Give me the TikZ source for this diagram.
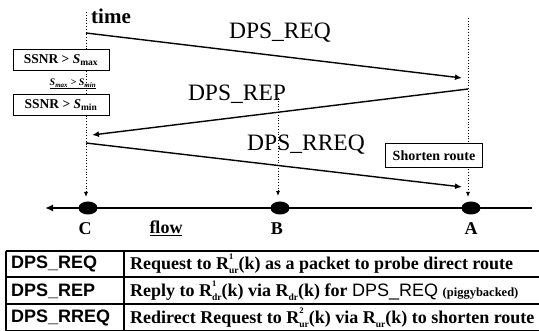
\documentclass[tikz,border=0pt]{standalone}
\usepackage{fontspec}
\setmainfont{Liberation Serif}
\newfontfamily\sansf{Liberation Sans}
\usetikzlibrary{arrows.meta,shapes.geometric}
\newcommand{\Rsub}[2]{R\rlap{\raisebox{0.58em}{\fontsize{8.5}{8.5}\selectfont #1}}\raisebox{-0.22em}{\fontsize{9.5}{9.5}\selectfont #2}}
\newcommand{\Rlow}[1]{R\raisebox{-0.22em}{\fontsize{9.5}{9.5}\selectfont #1}}
\begin{document}
\begin{tikzpicture}[x=1pt,y=-1pt,
  msg/.style={line width=1.4pt,-{Latex[length=7pt,width=6pt]}},
  dotline/.style={dotted,line width=0.8pt,-{Latex[length=5pt,width=4pt]}},
  condbox/.style={draw,line width=1pt,fill=white,inner sep=0pt,minimum width=96pt,minimum height=21pt,font=\bfseries\fontsize{13.5}{15}\selectfont},
  msglbl/.style={font=\fontsize{23.5}{26}\selectfont},
  station/.style={ellipse,fill=black,minimum width=19pt,minimum height=13pt,inner sep=0pt},
  stlbl/.style={font=\bfseries\fontsize{18}{20}\selectfont},
  tcolA/.style={anchor=west,font=\sansf\bfseries\fontsize{18}{20}\selectfont,inner sep=0pt},
  tcolB/.style={anchor=west,font=\bfseries\fontsize{18}{20}\selectfont,inner sep=0pt},
  tline/.style={line width=1.3pt}
]
\useasboundingbox (0,0) rectangle (539,331);

% time lines
\coordinate (ctop) at (86,12);
\coordinate (cbot) at (86,197);
\coordinate (atop) at (468,18);
\coordinate (abot) at (468,197);
\coordinate (btop) at (278,98);
\coordinate (bbot) at (278,196);
\draw[dotline] (ctop) -- (cbot);
\draw[dotline] (atop) -- (abot);
\draw[dotline] (btop) -- (bbot);

\node[anchor=south west,inner sep=0pt,font=\bfseries\fontsize{21}{24}\selectfont] (time) at (91,24) {time};

% messages
\coordinate (req1) at (86,33);
\coordinate (req2) at (462,78);
\coordinate (rep1) at (468,89);
\coordinate (rep2) at (92,135);
\coordinate (rr1) at (86,143);
\coordinate (rr2) at (462,187);
\draw[msg] (req1) -- (req2);
\draw[msg] (rep1) -- (rep2);
\draw[msg] (rr1) -- (rr2);
\node[msglbl] (lreq) at (280,33) {DPS\_REQ};
\node[msglbl] (lrep) at (237,94) {DPS\_REP};
\node[msglbl] (lrr) at (306,145) {DPS\_RREQ};

% condition boxes
\node[condbox] (c1) at (61,60) {SSNR > \textit{S}\textsubscript{max}};
\node[font=\bfseries\itshape\fontsize{10}{12}\selectfont,inner sep=1pt] (c2) at (73,84) {\underline{S\textsubscript{max} > S\textsubscript{min}}};
\node[condbox] (c3) at (61,105) {SSNR > \textit{S}\textsubscript{min}};
\node[condbox,minimum width=97pt,minimum height=24pt,font=\bfseries\fontsize{14}{16}\selectfont] (sr) at (434,156) {Shorten route};

% flow line and stations
\coordinate (fl) at (45,208);
\coordinate (fr) at (532,208);
\draw[line width=1.6pt,-{Latex[length=8pt,width=7pt]}] (fr) -- (fl);
\node[station] (C) at (88,208) {};
\node[station] (B) at (280,208) {};
\node[station] (A) at (471,208) {};
\node[stlbl] (lC) at (85,229) {C};
\node[stlbl] (lflow) at (166,228) {\underline{flow}};
\node[stlbl] (lB) at (277,229) {B};
\node[stlbl] (lA) at (471,229) {A};

% table
\draw[tline] (6,251) -- (539,251);
\draw[tline] (6,277) -- (539,277);
\draw[tline] (6,304) -- (539,304);
\draw[tline] (6,330.5) -- (539,330.5);
\draw[tline] (6,251) -- (6,331);
\draw[tline] (124,251) -- (124,331);
\node[tcolA] (t1a) at (11,264) {DPS\_REQ};
\node[tcolA] (t2a) at (11,291) {DPS\_REP};
\node[tcolA] (t3a) at (11,318) {DPS\_RREQ};
\node[tcolB] (t1b) at (130,264) {Request to \Rsub{1}{ur}(k) as a packet to probe direct route};
\node[tcolB] (t2b) at (130,291) {Reply to \Rsub{1}{dr}(k) via \Rlow{dr}(k) for {\sansf\mdseries DPS\_REQ} {\fontsize{12.5}{13}\selectfont(piggybacked)}};
\node[tcolB] (t3b) at (130,318) {Redirect Request to \Rsub{2}{ur}(k) via \Rlow{ur}(k) to shorten route};
\end{tikzpicture}
\end{document}
